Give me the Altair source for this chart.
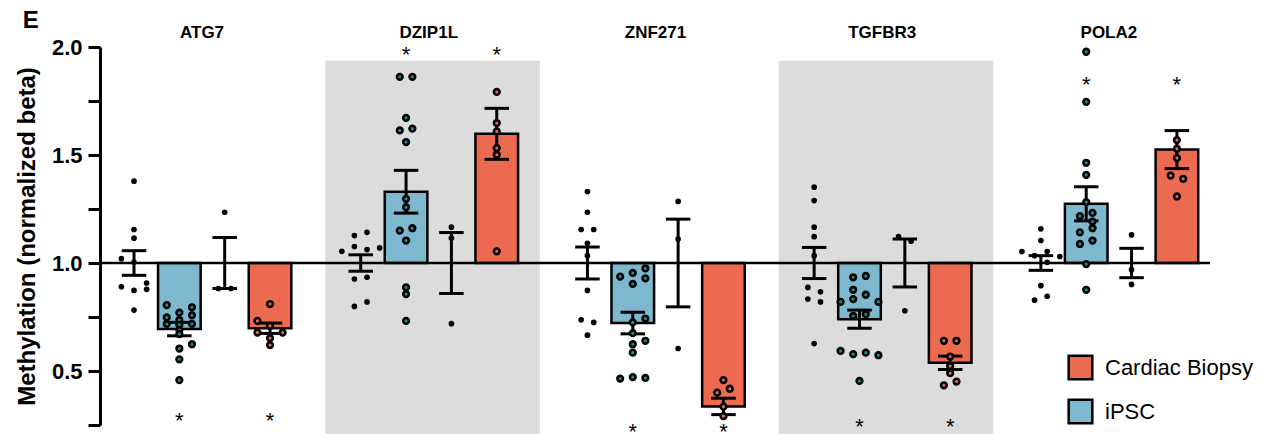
import altair as alt
import pandas as pd

# ---------------- data ----------------
GENES = ["ATG7", "DZIP1L", "ZNF271", "TGFBR3", "POLA2"]
COLUMNS = ["Control iPSC", "iPSC", "Control Biopsy", "Cardiac Biopsy"]
SHADED = ["DZIP1L", "TGFBR3"]
PANEL_LABEL = "E"

# mean / SEM per column (Control iPSC, iPSC, Control Biopsy, Cardiac Biopsy)
ATG7_MEAN = [1.0, 0.694, 1.0, 0.698]
ATG7_SEM = [0.057, 0.031, 0.118, 0.024]
DZIP1L_MEAN = [1.0, 1.330, 1.0, 1.598]
DZIP1L_SEM = [0.038, 0.099, 0.141, 0.118]
ZNF271_MEAN = [1.0, 0.722, 1.0, 0.336]
ZNF271_SEM = [0.074, 0.050, 0.203, 0.038]
TGFBR3_MEAN = [1.0, 0.740, 1.0, 0.538]
TGFBR3_SEM = [0.072, 0.042, 0.111, 0.031]
POLA2_MEAN = [1.0, 1.274, 1.0, 1.525]
POLA2_SEM = [0.034, 0.079, 0.068, 0.088]

# individual samples (value) and their swarm lane
ATG7_CTRL_IPSC = [1.379, 1.155, 1.115, 1.020, 1.003, 0.890, 0.873, 0.907, 0.878, 0.782]
ATG7_CTRL_IPSC_LANE = [0, 0, 0, -2, 0, -2, 0, 2, 2, 0]
ATG7_IPSC = [0.805, 0.795, 0.770, 0.748, 0.758, 0.736, 0.718, 0.718, 0.714, 0.690, 0.671, 0.624, 0.604, 0.554, 0.458]
ATG7_IPSC_LANE = [-2, 2, 0, -2, 2, 0, -2, 2, 0, 0, 0, 2, 0, 0, 0]
ATG7_CTRL_BIO = [1.235, 0.882, 0.882]
ATG7_CTRL_BIO_LANE = [0, -1, 1]
ATG7_CARDIAC = [0.810, 0.732, 0.709, 0.678, 0.678, 0.652, 0.620]
ATG7_CARDIAC_LANE = [0, -2, 0, -2, 2, 0, 0]

DZIP1L_CTRL_IPSC = [1.127, 1.142, 1.054, 1.076, 1.062, 1.070, 0.926, 0.934, 0.799, 0.820]
DZIP1L_CTRL_IPSC_LANE = [-1, 1, -3, -1, 1, 3, -1, 1, -1, 1]
DZIP1L_IPSC = [1.862, 1.862, 1.672, 1.614, 1.622, 1.560, 1.297, 1.258, 1.150, 1.161, 1.104, 0.887, 0.856, 0.732]
DZIP1L_IPSC_LANE = [-1, 1, 0, -1, 1, 0, 0, 0, -1, 1, 0, 0, 0, 0]
DZIP1L_CTRL_BIO = [1.166, 1.115, 0.719]
DZIP1L_CTRL_BIO_LANE = [0, 0, 0]
DZIP1L_CARDIAC = [1.792, 1.648, 1.609, 1.532, 1.501, 1.054]
DZIP1L_CARDIAC_LANE = [0, 0, 0, 0, 0, 0]

ZNF271_CTRL_IPSC = [1.331, 1.235, 1.155, 1.155, 1.091, 1.034, 0.873, 0.737, 0.725, 0.666]
ZNF271_CTRL_IPSC_LANE = [0, 0, -1, 1, 0, 0, 0, -1, 1, 0]
ZNF271_IPSC = [0.937, 0.954, 0.975, 0.929, 0.903, 0.743, 0.725, 0.675, 0.640, 0.624, 0.585, 0.465, 0.472, 0.468]
ZNF271_IPSC_LANE = [-2, 0, 2, 2, 0, 2, 0, 0, 2, 0, 0, -2, 0, 2]
ZNF271_CTRL_BIO = [1.285, 1.111, 0.604]
ZNF271_CTRL_BIO_LANE = [0, 0, 0]
ZNF271_CARDIAC = [0.458, 0.418, 0.400, 0.335, 0.291]
ZNF271_CARDIAC_LANE = [0, 1, -1, 0, 0]

TGFBR3_CTRL_IPSC = [1.351, 1.289, 1.166, 1.122, 1.034, 0.887, 0.867, 0.833, 0.820, 0.627]
TGFBR3_CTRL_IPSC_LANE = [0, 0, 0, 0, 0, -1, 1, -1, 1, 0]
TGFBR3_IPSC = [0.934, 0.940, 0.876, 0.853, 0.833, 0.820, 0.820, 0.755, 0.763, 0.593, 0.578, 0.585, 0.573, 0.454]
TGFBR3_IPSC_LANE = [-1, 1, -1, 1, -1, -3, 3, -1, 1, -3, -1, 1, 3, 0]
TGFBR3_CTRL_BIO = [1.122, 1.101, 0.779]
TGFBR3_CTRL_BIO_LANE = [-1, 1, 0]
TGFBR3_CARDIAC = [0.640, 0.640, 0.567, 0.523, 0.490, 0.434, 0.451]
TGFBR3_CARDIAC_LANE = [-1, 1, 0, 0, 0, -1, 1]

POLA2_CTRL_IPSC = [1.158, 1.104, 1.053, 1.034, 1.053, 1.030, 1.003, 0.895, 0.828, 0.846]
POLA2_CTRL_IPSC_LANE = [0, 0, -3, -1, 1, 3, 1, 0, -1, 1]
POLA2_IPSC = [1.978, 1.746, 1.464, 1.408, 1.282, 1.217, 1.232, 1.192, 1.161, 1.142, 1.104, 1.088, 0.995, 0.876]
POLA2_IPSC_LANE = [0, 0, 0, 0, 0, -1, 1, 1, 1, -1, 1, -1, 0, 0]
POLA2_CTRL_BIO = [1.130, 0.969, 0.901]
POLA2_CTRL_BIO_LANE = [0, 0, 0]
POLA2_CARDIAC = [1.569, 1.529, 1.486, 1.405, 1.390, 1.308]
POLA2_CARDIAC_LANE = [0, 0, 0, -1, 1, 0]

# significance marks (columns iPSC and Cardiac Biopsy) and their level
SIG_COLUMNS = [1, 3]
SIG_LEVEL = [0.292, 1.984, 0.240, 0.264, 1.849]

# ---------------- layout / style constants ----------------
GROUP_STEP = 5
BAR_HALF = 0.47
CAP_HALF = 0.27
LANE = 0.139
BASE = 1.0
BG_TOP, BG_BOTTOM = 1.936, 0.20
BG_LEFT, BG_RIGHT = -0.78, 3.95
TITLE_LEVEL = 2.04
PANEL_POS, PANEL_LEVEL = -2.28, 2.088

BLUE = "#7DB8CF"
RED = "#EC6A50"
TEAL_DOT = "#16989A"
RED_DOT = "#EA6A66"
GRAY = "#DCDCDC"
FONT = "Liberation Sans"

MEANS = [ATG7_MEAN, DZIP1L_MEAN, ZNF271_MEAN, TGFBR3_MEAN, POLA2_MEAN]
SEMS = [ATG7_SEM, DZIP1L_SEM, ZNF271_SEM, TGFBR3_SEM, POLA2_SEM]
SAMPLES = [
    [(ATG7_CTRL_IPSC, ATG7_CTRL_IPSC_LANE), (ATG7_IPSC, ATG7_IPSC_LANE),
     (ATG7_CTRL_BIO, ATG7_CTRL_BIO_LANE), (ATG7_CARDIAC, ATG7_CARDIAC_LANE)],
    [(DZIP1L_CTRL_IPSC, DZIP1L_CTRL_IPSC_LANE), (DZIP1L_IPSC, DZIP1L_IPSC_LANE),
     (DZIP1L_CTRL_BIO, DZIP1L_CTRL_BIO_LANE), (DZIP1L_CARDIAC, DZIP1L_CARDIAC_LANE)],
    [(ZNF271_CTRL_IPSC, ZNF271_CTRL_IPSC_LANE), (ZNF271_IPSC, ZNF271_IPSC_LANE),
     (ZNF271_CTRL_BIO, ZNF271_CTRL_BIO_LANE), (ZNF271_CARDIAC, ZNF271_CARDIAC_LANE)],
    [(TGFBR3_CTRL_IPSC, TGFBR3_CTRL_IPSC_LANE), (TGFBR3_IPSC, TGFBR3_IPSC_LANE),
     (TGFBR3_CTRL_BIO, TGFBR3_CTRL_BIO_LANE), (TGFBR3_CARDIAC, TGFBR3_CARDIAC_LANE)],
    [(POLA2_CTRL_IPSC, POLA2_CTRL_IPSC_LANE), (POLA2_IPSC, POLA2_IPSC_LANE),
     (POLA2_CTRL_BIO, POLA2_CTRL_BIO_LANE), (POLA2_CARDIAC, POLA2_CARDIAC_LANE)],
]

# ---------------- tables ----------------
summary_rows, point_rows, sig_rows, bg_rows, title_rows = [], [], [], [], []
for g, gene in enumerate(GENES):
    title_rows.append({"gene": gene, "pos": g * GROUP_STEP + 1.5, "level": TITLE_LEVEL})
    if gene in SHADED:
        bg_rows.append({"gene": gene, "x0": g * GROUP_STEP + BG_LEFT, "x1": g * GROUP_STEP + BG_RIGHT,
                        "top": BG_TOP, "bottom": BG_BOTTOM})
    for c, col in enumerate(COLUMNS):
        pos = g * GROUP_STEP + c
        m, s = MEANS[g][c], SEMS[g][c]
        summary_rows.append({"gene": gene, "series": col, "pos": pos, "mean": m, "base": BASE,
                             "lo": m - s, "hi": m + s,
                             "l": pos - BAR_HALF, "r": pos + BAR_HALF,
                             "cl": pos - CAP_HALF, "cr": pos + CAP_HALF,
                             "bar": c in (1, 3)})
        vals, lanes = SAMPLES[g][c]
        for v, ln in zip(vals, lanes):
            point_rows.append({"gene": gene, "series": col, "x": pos + ln * LANE, "value": v,
                               "control": c in (0, 2),
                               "dot": TEAL_DOT if c == 1 else (RED_DOT if c == 3 else "black")})
        if c in SIG_COLUMNS:
            sig_rows.append({"gene": gene, "pos": pos, "level": SIG_LEVEL[g], "t": "*"})

summary = pd.DataFrame(summary_rows)
points = pd.DataFrame(point_rows)
sig = pd.DataFrame(sig_rows)
bg = pd.DataFrame(bg_rows)
titles = pd.DataFrame(title_rows)
bars = summary[summary["bar"]]
panel = pd.DataFrame({"t": [PANEL_LABEL], "pos": [PANEL_POS], "level": [PANEL_LEVEL]})

XS = alt.Scale(domain=[-0.75, 23.73], nice=False, zero=False)
YS = alt.Scale(domain=[0.25, 2.0], nice=False, zero=False)
YAXIS = alt.Axis(
    values=[0.25, 0.5, 0.75, 1.0, 1.25, 1.5, 1.75, 2.0],
    labelExpr="(datum.value * 2) % 1 == 0 ? format(datum.value, '.1f') : ''",
    title="Methylation (normalized beta)",
)
YTITLE = "Methylation (normalized beta)"


def X(field):
    return alt.X(field, type="quantitative", scale=XS, axis=None)


def Y(field):
    return alt.Y(field, type="quantitative", scale=YS, axis=YAXIS, title=YTITLE)


bg_layer = alt.Chart(bg).mark_rect(color=GRAY).encode(
    x=X("x0"), x2="x1", y=Y("top"), y2="bottom")

bar_layer = alt.Chart(bars).mark_rect(stroke="black", strokeWidth=2.5).encode(
    x=X("l"), x2="r", y=Y("base"), y2="mean",
    color=alt.Color("series:N",
                    scale=alt.Scale(domain=["Cardiac Biopsy", "iPSC"], range=[RED, BLUE]),
                    legend=alt.Legend(title=None, orient="none", legendX=967, legendY=307,
                                      symbolType="square", symbolSize=560,
                                      symbolStrokeColor="black", symbolStrokeWidth=2.5,
                                      labelFontSize=22, labelFont=FONT, labelColor="black",
                                      labelOffset=11, rowPadding=9)))

base_layer = alt.Chart(pd.DataFrame({"y": [BASE]})).mark_rule(color="black", strokeWidth=2.5).encode(
    y=Y("y"))

err_layer = alt.Chart(summary).mark_rule(color="black", strokeWidth=3).encode(
    x=X("pos"), y=Y("lo"), y2="hi")
cap_lo = alt.Chart(summary).mark_rule(color="black", strokeWidth=3).encode(
    x=X("cl"), x2="cr", y=Y("lo"))
cap_hi = alt.Chart(summary).mark_rule(color="black", strokeWidth=3).encode(
    x=X("cl"), x2="cr", y=Y("hi"))

ctrl_layer = alt.Chart(points[points["control"]]).mark_circle(color="black", size=32, opacity=1).encode(
    x=X("x"), y=Y("value"))
exp_layer = alt.Chart(points[~points["control"]]).mark_point(
    filled=True, stroke="black", strokeWidth=2.6, size=32, opacity=1, strokeOpacity=1).encode(
    x=X("x"), y=Y("value"), fill=alt.Fill("dot:N", scale=None))

sig_layer = alt.Chart(sig).mark_text(fontSize=22, font=FONT, color="black", baseline="alphabetic",
                                     dy=12).encode(
    x=X("pos"), y=Y("level"), text="t:N")

title_layer = alt.Chart(titles).mark_text(fontSize=17, font=FONT, fontWeight="bold", color="black",
                                          baseline="alphabetic").encode(
    x=X("pos"), y=Y("level"), text="gene:N")

panel_layer = alt.Chart(panel).mark_text(fontSize=24, font=FONT, fontWeight="bold", color="black",
                                         baseline="alphabetic", align="center").encode(
    x=X("pos"), y=Y("level"), text="t:N")

chart = alt.layer(
    bg_layer, bar_layer, base_layer, err_layer, cap_lo, cap_hi, ctrl_layer, exp_layer,
    sig_layer, title_layer, panel_layer,
).properties(
    width=1110, height=378,
    autosize=alt.AutoSizeParams(type="none"),
    padding={"left": 92, "top": 39, "right": 46, "bottom": 9},
).configure_view(stroke=None).configure_axis(
    domainWidth=3, domainColor="black", tickWidth=3, tickColor="black", tickSize=12,
    labelFont=FONT, labelFontSize=22, labelFontWeight="bold", labelColor="black", labelPadding=6,
    titleFont=FONT, titleFontSize=24, titleFontWeight="bold", titleColor="black", titlePadding=12,
    grid=False,
)

chart.save("out.html", embed_options={"renderer": "svg", "actions": False})
